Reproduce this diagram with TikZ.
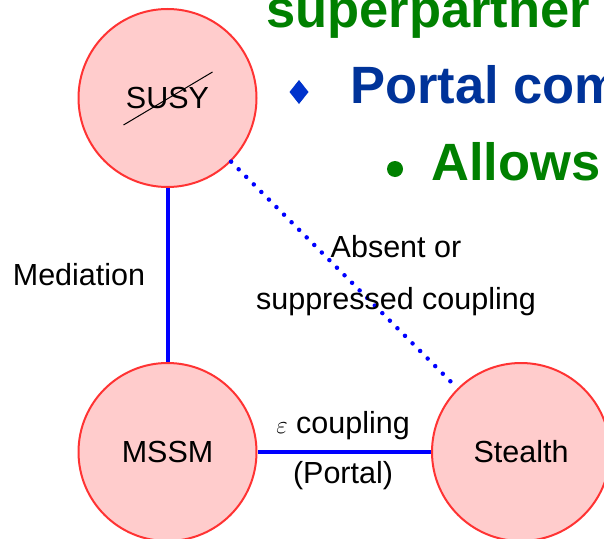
\documentclass[tikz,border=0pt]{standalone}
\usepackage{fontspec}
\setmainfont{Liberation Sans}
\usetikzlibrary{calc}
\definecolor{circfill}{HTML}{FFCCCC}
\definecolor{circline}{HTML}{FF3333}
\definecolor{linkblue}{HTML}{0000FF}
\definecolor{titlegreen}{HTML}{008000}
\definecolor{titleblue}{HTML}{003399}
\definecolor{diamondblue}{HTML}{0033CC}
\begin{document}
\begin{tikzpicture}[x=1pt,y=-1pt,
  sector/.style={circle,draw=circline,fill=circfill,line width=2pt,minimum size=178pt,inner sep=0pt,font=\fontsize{30.5}{36}\selectfont},
  lbl/.style={inner sep=0pt,anchor=base,font=\fontsize{30.5}{36}\selectfont},
  link/.style={draw=linkblue,line width=4pt},
  dotlink/.style={draw=linkblue,line width=4.5pt,line cap=round,dash pattern=on 0pt off 10.7pt},
  head/.style={inner sep=0pt,anchor=base west,font=\fontsize{52.5}{60}\selectfont\bfseries}]
\useasboundingbox (0,0) rectangle (604,538);
\clip (0,0) rectangle (604,538);
\fill[white] (0,0) rectangle (604,538);
% circles
\node[sector] (susy) at (167.5,98) {SUSY};
\node[sector] (mssm) at (167.5,452) {MSSM};
\node[sector] (stealth) at (521,452) {Stealth};
% connectors
\draw[link] (susy) -- (mssm);
\draw[link] (mssm) -- (stealth);
\draw[dotlink] (susy) -- (stealth);
% strike through SUSY
\draw[line width=1pt] ($(susy.center)+(-44,27)$) -- ($(susy.center)+(45,-26)$);
% labels
\node[lbl] (med) at (79,285) {Mediation};
\node[lbl] (abs1) at (396,257) {Absent or};
\node[lbl] (abs2) at (396,309) {suppressed coupling};
\node[lbl] (eps) at (343,433) {$\varepsilon$ coupling};
\node[lbl] (portal) at (343,483) {(Portal)};
% heading text
\node[head,text=titlegreen] (h1) at (266,27) {superpartner};
\fill[diamondblue] (299,80) -- (308.5,92) -- (299,104) -- (289.5,92) -- cycle;
\node[head,text=titleblue] (h2) at (350,103) {Portal com};
\fill[titlegreen] (395,169) circle (8);
\node[head,text=titlegreen] (h3) at (431,180) {Allows};
\end{tikzpicture}
\end{document}
